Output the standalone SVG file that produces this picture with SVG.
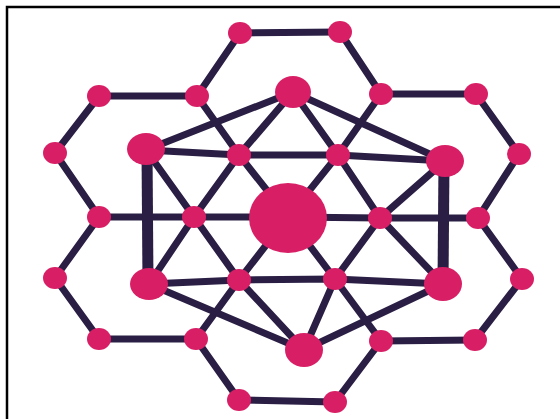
<svg xmlns="http://www.w3.org/2000/svg" width="560" height="419" viewBox="0 0 560 419">
<style>
.e{stroke:#2a1e44;stroke-width:7;stroke-linecap:round;fill:none}
.t{stroke:#2a1e44;stroke-width:11;fill:none}
.n{fill:#d81f66}
</style>
<rect x="0" y="0" width="560" height="419" fill="#ffffff"/>
<path d="M7 419 V7 H560" fill="none" stroke="#000" stroke-width="2.5"/>
<g id="connectors">
<!-- top hexagon -->
<path class="e" d="M240 33 L340 32"/>
<path class="e" d="M240 33 L197 96"/>
<path class="e" d="M340 32 L381 94"/>
<!-- upper-left hexagon -->
<path class="e" d="M99 96 L197 96"/>
<path class="e" d="M99 96 L55 153"/>
<path class="e" d="M55 153 L99 217"/>
<!-- upper-right hexagon -->
<path class="e" d="M381 94 L476 94"/>
<path class="e" d="M476 94 L519 154"/>
<path class="e" d="M519 154 L478 218"/>
<!-- lower-left hexagon -->
<path class="e" d="M99 217 L55 278"/>
<path class="e" d="M55 278 L99 339"/>
<path class="e" d="M99 339 L196 339"/>
<!-- lower-right hexagon -->
<path class="e" d="M478 218 L522 279"/>
<path class="e" d="M522 279 L475 340"/>
<path class="e" d="M475 340 L381 341"/>
<!-- bottom hexagon -->
<path class="e" d="M196 339 L239 400"/>
<path class="e" d="M239 400 L335 402"/>
<path class="e" d="M335 402 L381 341"/>
<!-- long lines through center -->
<path class="e" d="M197 96 L239 155 L288 217 L335 279 L381 341"/>
<path class="e" d="M381 94 L338 155 L288 217 L239 280 L196 339"/>
<path class="e" d="M99 217 L194 217 L288 217 L380 218 L478 218"/>
<!-- star lines -->
<path class="e" d="M146 150 L239 155 L338 155 L445 161"/>
<path class="e" d="M149 284 L239 280 L335 279 L443 284"/>
<path class="e" d="M293 92 L239 155 L194 217 L149 284"/>
<path class="e" d="M293 92 L338 155 L380 218 L443 284"/>
<path class="e" d="M146 150 L194 217 L239 280 L304 350"/>
<path class="e" d="M445 161 L380 218 L335 279 L304 350"/>
<!-- outer hexagon of big nodes -->
<path class="e" d="M146 150 L293 92 L445 161"/>
<path class="e" d="M149 284 L304 350 L443 284"/>
<path class="t" d="M147 150 L148 284"/>
<path class="t" d="M444 161 L443 284"/>
</g>
<g id="n-top1"><ellipse class="n" cx="240" cy="33" rx="12" ry="11"/></g>
<g id="n-top2"><ellipse class="n" cx="340" cy="32" rx="12" ry="11"/></g>
<g id="n-ul1"><ellipse class="n" cx="99" cy="96" rx="12" ry="11"/></g>
<g id="n-ul2"><ellipse class="n" cx="197" cy="96" rx="12" ry="11"/></g>
<g id="n-ur1"><ellipse class="n" cx="381" cy="94" rx="12" ry="11"/></g>
<g id="n-ur2"><ellipse class="n" cx="476" cy="94" rx="12" ry="11"/></g>
<g id="n-l1"><ellipse class="n" cx="55" cy="153" rx="12" ry="11"/></g>
<g id="n-r1"><ellipse class="n" cx="519" cy="154" rx="12" ry="11"/></g>
<g id="n-i1"><ellipse class="n" cx="239" cy="155" rx="12" ry="11"/></g>
<g id="n-i2"><ellipse class="n" cx="338" cy="155" rx="12" ry="11"/></g>
<g id="n-m1"><ellipse class="n" cx="99" cy="217" rx="12" ry="11"/></g>
<g id="n-i3"><ellipse class="n" cx="194" cy="217" rx="12" ry="11"/></g>
<g id="n-i4"><ellipse class="n" cx="380" cy="218" rx="12" ry="11"/></g>
<g id="n-m2"><ellipse class="n" cx="478" cy="218" rx="12" ry="11"/></g>
<g id="n-l2"><ellipse class="n" cx="55" cy="278" rx="12" ry="11"/></g>
<g id="n-i5"><ellipse class="n" cx="239" cy="280" rx="12" ry="11"/></g>
<g id="n-i6"><ellipse class="n" cx="335" cy="279" rx="12" ry="11"/></g>
<g id="n-r2"><ellipse class="n" cx="522" cy="279" rx="12" ry="11"/></g>
<g id="n-ll1"><ellipse class="n" cx="99" cy="339" rx="12" ry="11"/></g>
<g id="n-ll2"><ellipse class="n" cx="196" cy="339" rx="12" ry="11"/></g>
<g id="n-lr1"><ellipse class="n" cx="381" cy="341" rx="12" ry="11"/></g>
<g id="n-lr2"><ellipse class="n" cx="475" cy="340" rx="12" ry="11"/></g>
<g id="n-b1"><ellipse class="n" cx="239" cy="400" rx="12" ry="11"/></g>
<g id="n-b2"><ellipse class="n" cx="335" cy="402" rx="12" ry="11"/></g>
<g id="n-btop"><ellipse class="n" cx="293" cy="92" rx="18" ry="16"/></g>
<g id="n-btl"><ellipse class="n" cx="146" cy="149" rx="19" ry="16"/></g>
<g id="n-btr"><ellipse class="n" cx="445" cy="161" rx="19" ry="16"/></g>
<g id="n-bbl"><ellipse class="n" cx="149" cy="284" rx="19" ry="16"/></g>
<g id="n-bbr"><ellipse class="n" cx="443" cy="284" rx="19" ry="17"/></g>
<g id="n-bbot"><ellipse class="n" cx="304" cy="350" rx="19" ry="17"/></g>
<g id="n-center"><ellipse class="n" cx="288" cy="218" rx="39" ry="35"/></g>
</svg>
